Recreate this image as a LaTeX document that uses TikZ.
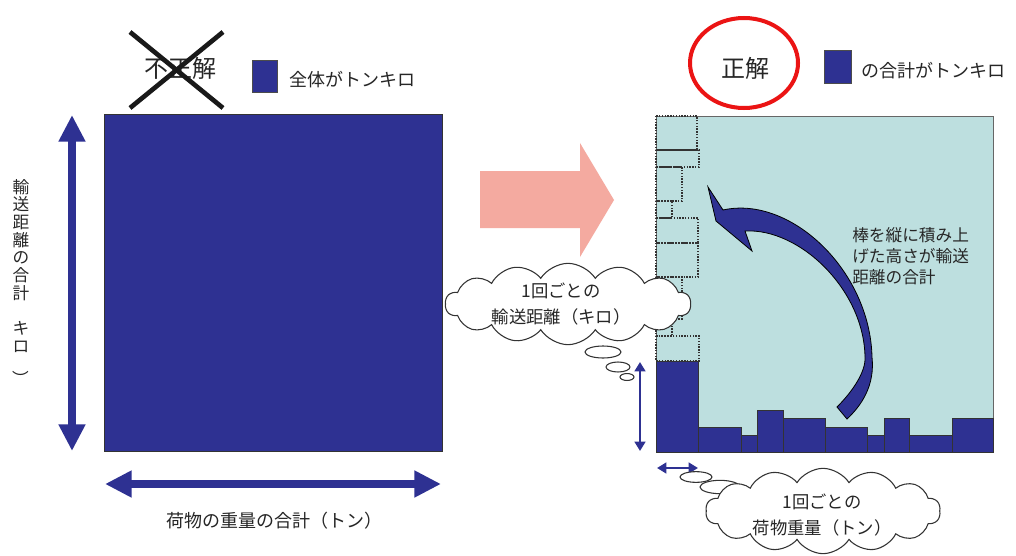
\documentclass[tikz,border=0pt]{standalone}
\usepackage{fontspec}
\setmainfont{Noto Sans CJK JP}
\usetikzlibrary{shapes.symbols,shapes.geometric,arrows.meta}
\definecolor{navy}{RGB}{46,49,146}
\definecolor{boxteal}{RGB}{189,223,223}
\definecolor{pinkarrow}{RGB}{244,170,160}
\definecolor{okred}{RGB}{235,20,20}
\begin{document}
\begin{tikzpicture}[x=0.75pt,y=-0.75pt,
  lbl/.style={font=\fontsize{13.5}{16}\selectfont, text=black!85, inner sep=0pt},
  bigarrow/.style={line width=6pt, draw=navy, {Triangle[width=19pt,length=20pt]}-{Triangle[width=19pt,length=20pt]}},
  smallarrow/.style={line width=2.2pt, draw=navy, {Triangle[width=8pt,length=7pt]}-{Triangle[width=8pt,length=7pt]}},
  bar/.style={fill=navy, draw=black!80, line width=0.6pt},
  stackbox/.style={draw=black!80, densely dotted, line width=1.1pt},
  thought/.style={draw=black!80, fill=white, line width=0.8pt},
  cloudbox/.style={cloud, cloud puffs=14, cloud puff arc=115, draw=black!80, fill=white, line width=0.8pt, inner sep=0pt},
  legsq/.style={draw=black!70, fill=navy, inner sep=0pt, anchor=north west}
]
\useasboundingbox (0,0) rectangle (1016,556);
\fill[white] (0,0) rectangle (1016,556);

% ---------- left panel ----------
\node[draw=black!80, fill=navy, line width=0.8pt, inner sep=0pt, anchor=north west,
      minimum width=253.5pt, minimum height=252.75pt] (sq) at (104,114) {};

\coordinate (vtop) at (72,115);
\coordinate (vbot) at (72,451);
\draw[bigarrow] (vtop) -- (vbot);
\node[lbl, align=center, font=\fontsize{12.5}{13.3}\selectfont] (vlab) at (21,283)
  {輸\\送\\距\\離\\の\\合\\計\\ \\キ\\ロ\\\rotatebox{-90}{）}};

\coordinate (hleft) at (105,484);
\coordinate (hright) at (441,484);
\draw[bigarrow] (hleft) -- (hright);
\node[lbl] (hlab) at (274,521) {荷物の重量の合計（トン）};

\node[lbl, font=\fontsize{18}{20}\selectfont] (ng) at (180,68) {不正解};
\coordinate (x1) at (130,32);
\coordinate (x2) at (223,108);
\coordinate (x3) at (130,108);
\coordinate (x4) at (223,32);
\draw[line width=3.5pt, black!90] (x1) -- (x2);
\draw[line width=3.5pt, black!90] (x3) -- (x4);

\node[legsq, minimum width=18.75pt, minimum height=24pt] (leg1) at (252,60) {};
\node[lbl, anchor=west] (leg1t) at (289,80) {全体がトンキロ};

% ---------- pink arrow ----------
\fill[pinkarrow] (480,171) -- (580,171) -- (580,143) -- (614,200) -- (580,257) -- (580,228) -- (480,228) -- cycle;

% ---------- right panel ----------
\node[ellipse, draw=okred, line width=3pt, minimum width=81pt, minimum height=67.5pt, inner sep=0pt] (okring) at (744,63) {};
\node[lbl, font=\fontsize{18}{20}\selectfont] (ok) at (745,68) {正解};

\node[legsq, minimum width=20.25pt, minimum height=24.75pt] (leg2) at (824,50) {};
\node[lbl, anchor=west] (leg2t) at (861,71) {の合計がトンキロ};

\node[draw=black!60, fill=boxteal, line width=0.8pt, anchor=north west, inner sep=0pt,
      minimum width=252.75pt, minimum height=252pt] (panel) at (656,116) {};

% stacked (dotted) boxes
\foreach \t/\b/\w in {336/361/43, 319/336/16, 277/319/26, 243/277/42, 218/243/42,
                      201/218/16, 167/201/26, 150/167/43, 116/150/41}
  \draw[stackbox] (656,\t) rectangle ({656+\w},\b);

% bars
\foreach \a/\b/\t in {656/698/361, 698/741/427, 741/757/435, 757/783/410, 783/825/418,
                      825/867/427, 867/884/435, 884/909/418, 909/952/435, 952/993/418}
  \draw[bar] (\a,\t) rectangle (\b,452);

% curved arrow
\filldraw[fill=navy, draw=black, line width=0.6pt]
  (708,187) -- (723,210)
  .. controls (790,195) and (870,270) .. (872,357)
  .. controls (875,385) and (862,405) .. (847,419)
  -- (837,407)
  .. controls (852,392) and (866,372) .. (865,357)
  .. controls (864,290) and (800,228) .. (745,231)
  -- (752,251) -- (716,221) -- cycle;

\node[lbl, anchor=north west, align=left, font=\fontsize{12.5}{16}\selectfont] (note) at (852,227)
  {棒を縦に積み上\\げた高さが輸送\\距離の合計};

% small arrows
\coordinate (sv1) at (640,362);
\coordinate (sv2) at (640,451);
\draw[smallarrow] (sv1) -- (sv2);
\coordinate (sh1) at (657,468);
\coordinate (sh2) at (698,468);
\draw[smallarrow] (sh1) -- (sh2);

% cloud 1
\node[cloudbox, minimum width=184pt, minimum height=61pt] (cl1) at (568,304) {};
\node[lbl, align=center, font=\fontsize{13}{20}\selectfont] (cl1t) at (561,304) {1回ごとの\\輸送距離（キロ）};
\draw[thought] (603,352) ellipse [x radius=13.5pt, y radius=4.5pt];
\draw[thought] (618,367) ellipse [x radius=9pt, y radius=3.75pt];
\draw[thought] (627,377) ellipse [x radius=5.25pt, y radius=2.6pt];

% cloud 2
\draw[thought] (696,477) ellipse [x radius=12pt, y radius=4pt];
\draw[thought] (720,487) ellipse [x radius=15pt, y radius=5pt];
\node[cloudbox, minimum width=176pt, minimum height=64pt] (cl2) at (823,511) {};
\node[lbl, align=center, font=\fontsize{13}{20}\selectfont] (cl2t) at (822,515) {1回ごとの\\荷物重量（トン）};
\end{tikzpicture}
\end{document}
